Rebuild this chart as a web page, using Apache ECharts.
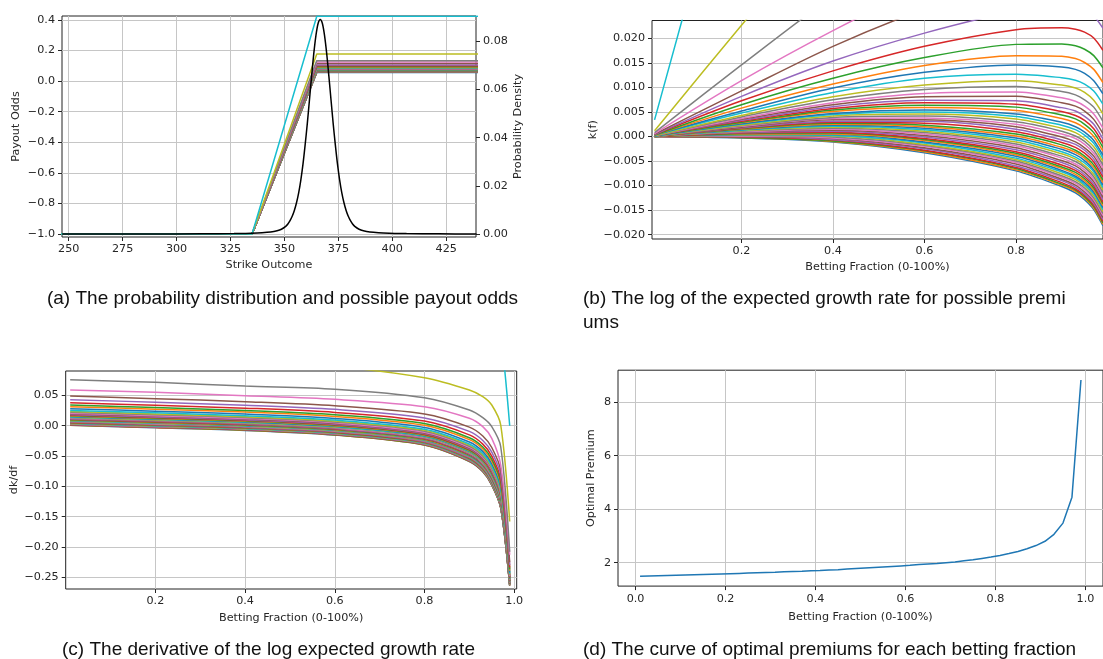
<!DOCTYPE html>
<html>
<head>
<meta charset="utf-8">
<script src="https://cdn.jsdelivr.net/npm/echarts@6/dist/echarts.min.js"></script>
<style>
  html, body { margin: 0; padding: 0; background: #ffffff; }
  #chart { width: 1103px; height: 659px; }
</style>
</head>
<body>
<div id="chart"></div>
<script>
// ---------- (a) payout odds for each premium + strike density ----------
const strikeBreaks = [240, 335, 365, 445];          // strikes where the payout changes slope
const lossOdds = -1;                                 // payout below the lower strike
const payoutCaps = [                                 // flat payout above the upper strike, premium 0..49
  0.0570, 0.0574, 0.0577, 0.0581, 0.0586, 0.0590, 0.0595, 0.0600, 0.0605, 0.0610,
  0.0614, 0.0619, 0.0624, 0.0629, 0.0635, 0.0641, 0.0647, 0.0653, 0.0659, 0.0665,
  0.0671, 0.0677, 0.0683, 0.0690, 0.0697, 0.0704, 0.0713, 0.0720, 0.0728, 0.0737,
  0.0744, 0.0755, 0.0764, 0.0774, 0.0785, 0.0798, 0.0811, 0.0828, 0.0846, 0.0866,
  0.0894, 0.0923, 0.0958, 0.1002, 0.1058, 0.1156, 0.1252, 0.1340, 0.1780, 0.4240
];
const densityStrike = [
  247, 286.6, 311.6, 326.6, 334.6, 339.6, 343.6, 346.6, 348.6, 350.6,
  351.6, 352.6, 353.6, 354.6, 355.6, 356.6, 357.6, 358.6, 359.6, 360.6,
  361.6, 362.6, 363.6, 364.6, 365.6, 366.6, 367.6, 368.6, 369.6, 370.6,
  371.6, 372.6, 373.6, 374.6, 375.6, 376.6, 377.6, 378.6, 379.6, 380.6,
  381.6, 382.6, 384.6, 386.6, 389.6, 393.6, 398.6, 406.6, 421.6, 439];
const densityValue = [
  0, 0, 0.0001, 0.0002, 0.0004, 0.0006, 0.0009, 0.0014, 0.0020, 0.0032,
  0.0042, 0.0056, 0.0074, 0.0098, 0.0130, 0.0171, 0.0224, 0.0290, 0.0370, 0.0458,
  0.0556, 0.0655, 0.0748, 0.0823, 0.0873, 0.0890, 0.0873, 0.0823, 0.0748, 0.0655,
  0.0556, 0.0458, 0.0370, 0.0290, 0.0224, 0.0171, 0.0130, 0.0098, 0.0074, 0.0056,
  0.0042, 0.0032, 0.0020, 0.0014, 0.0009, 0.0006, 0.0004, 0.0002, 0.0001, 0];

// ---------- (b) k(f): one array per betting fraction, one value per premium 0..49 ----------
const bettingFractions = [0.01, 0.2, 0.4, 0.6, 0.8, 0.9, 0.93, 0.95, 0.97, 0.99];
const growthAt01 = [
  0.0000,0.0000,0.0000,0.0000,0.0000,0.0000,0.0000,0.0000,0.0000,0.0000,
  0.0000,0.0000,0.0000,0.0000,0.0001,0.0001,0.0001,0.0001,0.0001,0.0001,
  0.0001,0.0001,0.0001,0.0001,0.0001,0.0001,0.0001,0.0001,0.0001,0.0001,
  0.0001,0.0002,0.0002,0.0002,0.0002,0.0002,0.0002,0.0002,0.0002,0.0003,
  0.0003,0.0003,0.0003,0.0004,0.0004,0.0005,0.0006,0.0008,0.0012,0.0034];
const growthAt20 = [
  -0.0003,-0.0002,-0.0002,-0.0001,0.0000,0.0000,0.0001,0.0002,0.0003,0.0004,
  0.0004,0.0005,0.0006,0.0007,0.0008,0.0009,0.0010,0.0011,0.0012,0.0013,
  0.0014,0.0015,0.0016,0.0017,0.0018,0.0019,0.0021,0.0022,0.0023,0.0025,
  0.0026,0.0028,0.0029,0.0031,0.0033,0.0035,0.0037,0.0040,0.0043,0.0048,
  0.0052,0.0058,0.0065,0.0073,0.0082,0.0093,0.0114,0.0146,0.0227,0.0677];
const growthAt40 = [
  -0.0011,-0.0010,-0.0009,-0.0007,-0.0006,-0.0004,-0.0003,-0.0001,0.0001,0.0002,
  0.0004,0.0005,0.0007,0.0009,0.0011,0.0013,0.0015,0.0017,0.0019,0.0021,
  0.0023,0.0025,0.0027,0.0029,0.0031,0.0034,0.0037,0.0039,0.0042,0.0045,
  0.0047,0.0051,0.0054,0.0057,0.0061,0.0065,0.0069,0.0075,0.0081,0.0090,
  0.0099,0.0107,0.0119,0.0134,0.0154,0.0184,0.0216,0.0287,0.0449,0.1349];
const growthAt60 = [
  -0.0033,-0.0031,-0.0029,-0.0028,-0.0025,-0.0023,-0.0020,-0.0018,-0.0016,-0.0013,
  -0.0011,-0.0008,-0.0006,-0.0004,-0.0001,0.0002,0.0005,0.0008,0.0011,0.0014,
  0.0017,0.0020,0.0023,0.0027,0.0031,0.0034,0.0038,0.0042,0.0046,0.0050,
  0.0054,0.0059,0.0064,0.0069,0.0074,0.0081,0.0088,0.0096,0.0105,0.0119,
  0.0131,0.0145,0.0161,0.0184,0.0211,0.0260,0.0308,0.0414,0.0657,0.2007];
const growthAt80 = [
  -0.0070,-0.0068,-0.0065,-0.0063,-0.0060,-0.0056,-0.0053,-0.0050,-0.0047,-0.0044,
  -0.0040,-0.0037,-0.0034,-0.0031,-0.0027,-0.0023,-0.0019,-0.0015,-0.0011,-0.0007,
  -0.0003,0.0001,0.0005,0.0010,0.0015,0.0020,0.0025,0.0030,0.0036,0.0041,
  0.0046,0.0053,0.0060,0.0066,0.0073,0.0082,0.0091,0.0102,0.0114,0.0127,
  0.0146,0.0165,0.0188,0.0218,0.0256,0.0320,0.0384,0.0526,0.0850,0.2650];
const growthAt90 = [
  -0.0102,-0.0099,-0.0097,-0.0094,-0.0090,-0.0087,-0.0083,-0.0080,-0.0076,-0.0072,
  -0.0069,-0.0065,-0.0062,-0.0058,-0.0053,-0.0049,-0.0044,-0.0040,-0.0035,-0.0031,
  -0.0026,-0.0022,-0.0017,-0.0012,-0.0007,-0.0001,0.0005,0.0011,0.0017,0.0023,
  0.0029,0.0037,0.0044,0.0051,0.0059,0.0069,0.0079,0.0092,0.0105,0.0120,
  0.0142,0.0164,0.0189,0.0222,0.0264,0.0337,0.0409,0.0569,0.0933,0.2958];
const growthAt93 = [
  -0.0115,-0.0112,-0.0109,-0.0107,-0.0103,-0.0099,-0.0095,-0.0092,-0.0088,-0.0084,
  -0.0081,-0.0077,-0.0073,-0.0069,-0.0065,-0.0060,-0.0056,-0.0051,-0.0046,-0.0042,
  -0.0037,-0.0032,-0.0028,-0.0022,-0.0016,-0.0011,-0.0004,0.0001,0.0008,0.0014,
  0.0020,0.0028,0.0036,0.0043,0.0052,0.0062,0.0072,0.0085,0.0099,0.0115,
  0.0137,0.0159,0.0185,0.0219,0.0264,0.0339,0.0413,0.0578,0.0954,0.3047];
const growthAt95 = [
  -0.0129,-0.0126,-0.0123,-0.0120,-0.0117,-0.0113,-0.0109,-0.0105,-0.0101,-0.0098,
  -0.0094,-0.0090,-0.0086,-0.0082,-0.0078,-0.0073,-0.0068,-0.0063,-0.0059,-0.0054,
  -0.0049,-0.0044,-0.0040,-0.0034,-0.0028,-0.0023,-0.0016,-0.0010,-0.0004,0.0003,
  0.0009,0.0017,0.0025,0.0033,0.0041,0.0052,0.0062,0.0075,0.0090,0.0107,
  0.0129,0.0151,0.0178,0.0213,0.0258,0.0335,0.0411,0.0579,0.0964,0.3101];
const growthAt97 = [
  -0.0149,-0.0146,-0.0143,-0.0140,-0.0136,-0.0132,-0.0129,-0.0125,-0.0121,-0.0117,
  -0.0113,-0.0109,-0.0105,-0.0101,-0.0097,-0.0092,-0.0087,-0.0082,-0.0077,-0.0072,
  -0.0068,-0.0063,-0.0058,-0.0052,-0.0046,-0.0040,-0.0034,-0.0028,-0.0021,-0.0014,
  -0.0008,0.0000,0.0008,0.0016,0.0025,0.0035,0.0046,0.0060,0.0074,0.0093,
  0.0114,0.0137,0.0165,0.0201,0.0246,0.0324,0.0402,0.0574,0.0967,0.3149];
const growthAt99 = [
  -0.0182,-0.0179,-0.0176,-0.0173,-0.0169,-0.0165,-0.0161,-0.0157,-0.0153,-0.0149,
  -0.0145,-0.0141,-0.0137,-0.0134,-0.0129,-0.0124,-0.0119,-0.0114,-0.0109,-0.0104,
  -0.0099,-0.0094,-0.0089,-0.0083,-0.0077,-0.0071,-0.0064,-0.0058,-0.0051,-0.0044,
  -0.0038,-0.0030,-0.0022,-0.0014,-0.0005,0.0006,0.0017,0.0031,0.0046,0.0066,
  0.0087,0.0110,0.0140,0.0176,0.0221,0.0301,0.0380,0.0555,0.0957,0.3184];

// ---------- (c) dk/df: one array per betting fraction, one value per premium 0..49 ----------
const slopeAt01 = [
  0.0006,0.0009,0.0012,0.0015,0.0019,0.0023,0.0027,0.0031,0.0035,0.0039,
  0.0043,0.0047,0.0051,0.0055,0.0060,0.0065,0.0070,0.0075,0.0080,0.0085,
  0.0090,0.0095,0.0100,0.0106,0.0112,0.0118,0.0125,0.0131,0.0138,0.0145,
  0.0151,0.0160,0.0168,0.0176,0.0185,0.0196,0.0207,0.0221,0.0236,0.0253,
  0.0281,0.0314,0.0341,0.0380,0.0430,0.0490,0.0589,0.0759,0.1170,0.3500];
const slopeAt20 = [
  -0.0033,-0.0030,-0.0027,-0.0024,-0.0020,-0.0016,-0.0012,-0.0008,-0.0004,0.0000,
  0.0004,0.0008,0.0012,0.0016,0.0020,0.0025,0.0030,0.0035,0.0040,0.0045,
  0.0050,0.0055,0.0060,0.0066,0.0072,0.0078,0.0085,0.0091,0.0098,0.0105,
  0.0111,0.0119,0.0127,0.0135,0.0144,0.0155,0.0166,0.0180,0.0195,0.0212,
  0.0239,0.0272,0.0299,0.0337,0.0387,0.0446,0.0551,0.0716,0.1130,0.3400];
const slopeAt40 = [
  -0.0077,-0.0074,-0.0071,-0.0068,-0.0064,-0.0060,-0.0056,-0.0052,-0.0049,-0.0045,
  -0.0041,-0.0037,-0.0033,-0.0029,-0.0024,-0.0019,-0.0014,-0.0009,-0.0004,0.0000,
  0.0005,0.0010,0.0015,0.0021,0.0027,0.0033,0.0040,0.0046,0.0052,0.0059,
  0.0065,0.0074,0.0082,0.0090,0.0098,0.0109,0.0120,0.0134,0.0148,0.0165,
  0.0193,0.0225,0.0251,0.0290,0.0339,0.0397,0.0496,0.0655,0.1070,0.3300];
const slopeAt60 = [
  -0.0154,-0.0151,-0.0148,-0.0145,-0.0141,-0.0137,-0.0133,-0.0129,-0.0125,-0.0121,
  -0.0117,-0.0113,-0.0109,-0.0105,-0.0100,-0.0095,-0.0090,-0.0085,-0.0080,-0.0075,
  -0.0070,-0.0065,-0.0060,-0.0054,-0.0048,-0.0042,-0.0035,-0.0029,-0.0022,-0.0015,
  -0.0009,0.0000,0.0008,0.0016,0.0025,0.0036,0.0047,0.0061,0.0076,0.0093,
  0.0121,0.0154,0.0181,0.0220,0.0270,0.0330,0.0435,0.0603,0.0980,0.3150];
const slopeAt80 = [
  -0.0320,-0.0317,-0.0314,-0.0310,-0.0306,-0.0302,-0.0298,-0.0293,-0.0289,-0.0285,
  -0.0281,-0.0277,-0.0272,-0.0268,-0.0263,-0.0257,-0.0252,-0.0247,-0.0242,-0.0236,
  -0.0231,-0.0226,-0.0220,-0.0214,-0.0208,-0.0201,-0.0194,-0.0187,-0.0180,-0.0173,
  -0.0166,-0.0157,-0.0148,-0.0140,-0.0130,-0.0119,-0.0107,-0.0092,-0.0076,-0.0058,
  -0.0028,0.0006,0.0035,0.0076,0.0129,0.0193,0.0314,0.0462,0.0792,0.2900];
const slopeAt90 = [
  -0.0590,-0.0586,-0.0583,-0.0579,-0.0575,-0.0570,-0.0565,-0.0561,-0.0556,-0.0551,
  -0.0547,-0.0542,-0.0537,-0.0533,-0.0527,-0.0521,-0.0515,-0.0509,-0.0503,-0.0498,
  -0.0492,-0.0486,-0.0480,-0.0473,-0.0466,-0.0459,-0.0451,-0.0444,-0.0436,-0.0427,
  -0.0420,-0.0410,-0.0400,-0.0391,-0.0381,-0.0368,-0.0355,-0.0338,-0.0321,-0.0301,
  -0.0268,-0.0230,-0.0198,-0.0152,-0.0094,-0.0024,0.0122,0.0259,0.0589,0.2600];
const slopeAt93 = [
  -0.0760,-0.0756,-0.0753,-0.0749,-0.0744,-0.0739,-0.0734,-0.0729,-0.0725,-0.0720,
  -0.0715,-0.0710,-0.0705,-0.0700,-0.0694,-0.0688,-0.0682,-0.0676,-0.0670,-0.0664,
  -0.0658,-0.0651,-0.0645,-0.0638,-0.0631,-0.0623,-0.0615,-0.0607,-0.0599,-0.0590,
  -0.0583,-0.0572,-0.0562,-0.0553,-0.0542,-0.0528,-0.0515,-0.0498,-0.0479,-0.0459,
  -0.0424,-0.0384,-0.0351,-0.0304,-0.0243,-0.0170,-0.0016,0.0132,0.0480,0.2400];
const slopeAt95 = [
  -0.0980,-0.0976,-0.0972,-0.0968,-0.0963,-0.0958,-0.0953,-0.0948,-0.0943,-0.0938,
  -0.0933,-0.0928,-0.0922,-0.0917,-0.0911,-0.0904,-0.0898,-0.0892,-0.0885,-0.0879,
  -0.0872,-0.0866,-0.0860,-0.0852,-0.0844,-0.0837,-0.0828,-0.0820,-0.0811,-0.0802,
  -0.0794,-0.0783,-0.0773,-0.0762,-0.0751,-0.0737,-0.0723,-0.0705,-0.0686,-0.0664,
  -0.0628,-0.0586,-0.0551,-0.0501,-0.0437,-0.0360,-0.0208,-0.0016,0.0342,0.2150];
const slopeAt97 = [
  -0.1360,-0.1356,-0.1352,-0.1348,-0.1343,-0.1338,-0.1333,-0.1328,-0.1323,-0.1318,
  -0.1313,-0.1308,-0.1302,-0.1297,-0.1291,-0.1284,-0.1278,-0.1272,-0.1265,-0.1259,
  -0.1252,-0.1246,-0.1240,-0.1232,-0.1224,-0.1217,-0.1208,-0.1200,-0.1191,-0.1182,
  -0.1174,-0.1163,-0.1153,-0.1142,-0.1131,-0.1117,-0.1103,-0.1085,-0.1066,-0.1044,
  -0.1008,-0.0966,-0.0931,-0.0881,-0.0817,-0.0740,-0.0650,-0.0347,0.0010,0.1500];
const slopeAt99 = [
  -0.2640,-0.2638,-0.2635,-0.2633,-0.2630,-0.2626,-0.2623,-0.2620,-0.2617,-0.2614,
  -0.2610,-0.2607,-0.2604,-0.2601,-0.2597,-0.2593,-0.2589,-0.2585,-0.2581,-0.2577,
  -0.2573,-0.2569,-0.2565,-0.2560,-0.2555,-0.2550,-0.2545,-0.2540,-0.2534,-0.2529,
  -0.2524,-0.2517,-0.2510,-0.2504,-0.2497,-0.2488,-0.2479,-0.2468,-0.2456,-0.2442,
  -0.2420,-0.2394,-0.2372,-0.2341,-0.2301,-0.2253,-0.2130,-0.2080,-0.1580,0.0000];

// ---------- (d) optimal premium per betting fraction ----------
const optimalFraction = [
  0.01,0.03,0.05,0.07,0.09,0.11,0.13,0.15,0.17,0.19,
  0.21,0.23,0.25,0.27,0.29,0.31,0.33,0.35,0.37,0.39,
  0.41,0.43,0.45,0.47,0.49,0.51,0.53,0.55,0.57,0.59,
  0.61,0.63,0.65,0.67,0.69,0.71,0.73,0.75,0.77,0.79,
  0.81,0.83,0.85,0.87,0.89,0.91,0.93,0.95,0.97,0.99];
const optimalPremium = [
  1.49,1.50,1.51,1.52,1.53,1.54,1.55,1.56,1.57,1.58,
  1.59,1.60,1.61,1.62,1.63,1.64,1.66,1.67,1.68,1.70,
  1.71,1.73,1.74,1.76,1.78,1.80,1.82,1.84,1.86,1.88,
  1.90,1.93,1.95,1.97,2.00,2.03,2.07,2.11,2.16,2.21,
  2.27,2.34,2.42,2.52,2.64,2.80,3.06,3.48,4.45,8.83];

// ---------- tick values ----------
const ticksStrike = [250, 275, 300, 325, 350, 375, 400, 425];
const ticksOdds = [-1.0, -0.8, -0.6, -0.4, -0.2, 0.0, 0.2, 0.4];
const ticksDensity = [0.00, 0.02, 0.04, 0.06, 0.08];
const ticksFractionB = [0.2, 0.4, 0.6, 0.8];
const ticksGrowth = [-0.020, -0.015, -0.010, -0.005, 0.000, 0.005, 0.010, 0.015, 0.020];
const ticksFractionC = [0.2, 0.4, 0.6, 0.8, 1.0];
const ticksSlope = [-0.25, -0.20, -0.15, -0.10, -0.05, 0.00, 0.05];
const ticksFractionD = [0.0, 0.2, 0.4, 0.6, 0.8, 1.0];
const ticksPremium = [2, 4, 6, 8];

// ---------- styling helpers ----------
const tab10 = ['#1f77b4', '#ff7f0e', '#2ca02c', '#d62728', '#9467bd',
               '#8c564b', '#e377c2', '#7f7f7f', '#bcbd22', '#17becf'];
const INK = '#262626';
const TICK_FONT = 'DejaVu Sans';
const TICK_SIZE = 11.2;

function fmt(digits) {
  return v => Number(v).toFixed(digits).replace('-', '\u2212');
}

function axis(o) {
  return {
    type: 'value',
    gridIndex: o.grid,
    min: o.min,
    max: o.max,
    position: o.position,
    name: o.name || '',
    nameLocation: 'middle',
    nameGap: o.nameGap || 20,
    nameTextStyle: { color: INK, fontFamily: TICK_FONT, fontSize: TICK_SIZE },
    axisLine: { show: false, onZero: false },
    axisTick: { show: true, length: 4, customValues: o.ticks, lineStyle: { color: INK, width: 1 } },
    axisLabel: { customValues: o.ticks, formatter: fmt(o.digits), color: INK,
                 fontFamily: TICK_FONT, fontSize: TICK_SIZE, margin: 7 },
    splitLine: { show: o.split !== false, lineStyle: { color: '#c6c6c6', width: 1 } }
  };
}

const grids = [
  { left: 62,  top: 16,    width: 414, height: 221 },
  { left: 652, top: 20.5,  width: 452, height: 218.5 },
  { left: 65.7, top: 371,  width: 451, height: 218 },
  { left: 618, top: 370.2, width: 488, height: 215.9 }
].map(g => Object.assign(g, { show: true, borderColor: '#222', borderWidth: 1, containLabel: false }));

const xAxes = [
  axis({ grid: 0, min: 246.9, max: 438.8, ticks: ticksStrike, digits: 0, name: 'Strike Outcome', nameGap: 23 }),
  axis({ grid: 1, min: 0.0044, max: 0.9902, ticks: ticksFractionB, digits: 1, name: 'Betting Fraction (0-100%)', nameGap: 23 }),
  axis({ grid: 2, min: 0, max: 1.0056, ticks: ticksFractionC, digits: 1, name: 'Betting Fraction (0-100%)', nameGap: 24 }),
  axis({ grid: 3, min: -0.039, max: 1.039, ticks: ticksFractionD, digits: 1, name: 'Betting Fraction (0-100%)', nameGap: 25 })
];
const yAxes = [
  axis({ grid: 0, min: -1.02, max: 0.426, ticks: ticksOdds, digits: 1, name: 'Payout Odds', nameGap: 40, position: 'left' }),
  axis({ grid: 0, min: -0.0012, max: 0.0904, ticks: ticksDensity, digits: 2, name: 'Probability Density', nameGap: 37, position: 'right', split: false }),
  axis({ grid: 1, min: -0.0209, max: 0.02367, ticks: ticksGrowth, digits: 3, name: 'k(f)', nameGap: 53, position: 'left' }),
  axis({ grid: 2, min: -0.2695, max: 0.0903, ticks: ticksSlope, digits: 2, name: 'dk/df', nameGap: 46, position: 'left' }),
  axis({ grid: 3, min: 1.125, max: 9.195, ticks: ticksPremium, digits: 0, name: 'Optimal Premium', nameGap: 21, position: 'left' })
];

const series = [];
const lineBase = { type: 'line', symbol: 'none', silent: true, clip: true, animation: false };

// (a) payout lines, then the density on the right-hand axis
payoutCaps.forEach((cap, i) => {
  const odds = [lossOdds, lossOdds, cap, cap];
  series.push(Object.assign({}, lineBase, {
    xAxisIndex: 0, yAxisIndex: 0,
    lineStyle: { color: tab10[i % 10], width: 1.5 },
    data: strikeBreaks.map((s, j) => [s, odds[j]])
  }));
});
series.push(Object.assign({}, lineBase, {
  xAxisIndex: 0, yAxisIndex: 1, smooth: 0.3,
  lineStyle: { color: '#000000', width: 1.5 },
  data: densityStrike.map((s, j) => [s, densityValue[j]])
}));

// (b) growth curves
const growthColumns = [growthAt01, growthAt20, growthAt40, growthAt60, growthAt80,
                       growthAt90, growthAt93, growthAt95, growthAt97, growthAt99];
for (let i = 0; i < growthAt01.length; i++) {
  series.push(Object.assign({}, lineBase, {
    xAxisIndex: 1, yAxisIndex: 2, smooth: 0.3,
    lineStyle: { color: tab10[i % 10], width: 1.5 },
    data: bettingFractions.map((f, j) => [f, growthColumns[j][i]])
  }));
}

// (c) derivative curves
const slopeColumns = [slopeAt01, slopeAt20, slopeAt40, slopeAt60, slopeAt80,
                      slopeAt90, slopeAt93, slopeAt95, slopeAt97, slopeAt99];
for (let i = 0; i < slopeAt01.length; i++) {
  series.push(Object.assign({}, lineBase, {
    xAxisIndex: 2, yAxisIndex: 3, smooth: 0.3,
    lineStyle: { color: tab10[i % 10], width: 1.5 },
    data: bettingFractions.map((f, j) => [f, slopeColumns[j][i]])
  }));
}

// (d) optimal premium curve
series.push(Object.assign({}, lineBase, {
  xAxisIndex: 3, yAxisIndex: 4,
  lineStyle: { color: tab10[0], width: 1.5 },
  data: optimalFraction.map((f, j) => [f, optimalPremium[j]])
}));

// sub-figure captions
const CAPTION_FONT = '19px "Liberation Sans", Arial, Helvetica, sans-serif';
function caption(text, x, y, align) {
  return { type: 'text', x: x, y: y, silent: true,
           style: { text: text, font: CAPTION_FONT, fill: '#111111', align: align, verticalAlign: 'middle' } };
}

const chart = echarts.init(document.getElementById('chart'), null, { renderer: 'canvas' });
chart.setOption({
  backgroundColor: '#ffffff',
  animation: false,
  grid: grids,
  xAxis: xAxes,
  yAxis: yAxes,
  series: series,
  graphic: [
    caption('(a) The probability distribution and possible payout odds', 282.5, 299, 'center'),
    caption('(b) The log of the expected growth rate for possible premi', 583, 299, 'left'),
    caption('ums', 583, 323, 'left'),
    caption('(c) The derivative of the log expected growth rate', 268.5, 650, 'center'),
    caption('(d) The curve of optimal premiums for each betting fraction', 583, 650, 'left')
  ]
});
</script>
</body>
</html>
